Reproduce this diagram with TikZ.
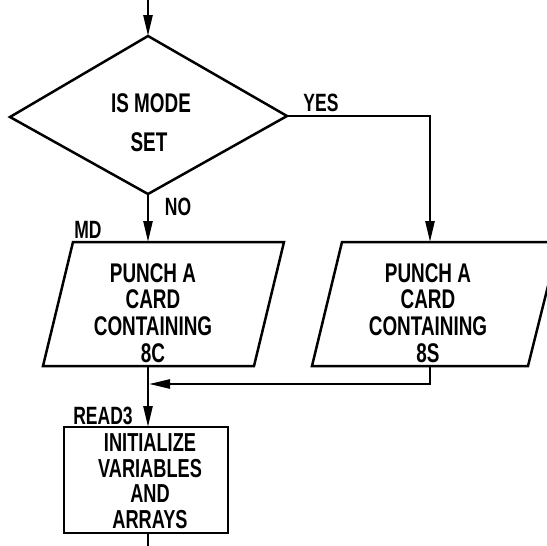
\documentclass[tikz,border=0pt]{standalone}
\usepackage{fontspec}
\newfontfamily\lbl[FakeStretch=0.7]{Liberation Sans}
\usetikzlibrary{arrows.meta}
\tikzset{
  shapeline/.style={line width=2.5pt, line join=miter},
  conn/.style={line width=2.5pt},
  arr/.style={conn, -{Triangle[length=21pt,width=9pt]}},
  txt/.style={font=\lbl\bfseries\fontsize{27}{26.7}\selectfont, align=center, inner sep=0pt},
  boxtxt/.style={font=\lbl\bfseries\fontsize{26}{25.6}\selectfont, align=center, inner sep=0pt},
  lab/.style={font=\lbl\bfseries\fontsize{25}{26}\selectfont, inner sep=0pt}
}
\begin{document}
\begin{tikzpicture}[x=1pt,y=-1pt]
\useasboundingbox (0,0) rectangle (547,546);
\clip (0,0) rectangle (547,546);
\fill[white] (0,0) rectangle (547,546);
% coordinates
\coordinate (start) at (148,0);
\coordinate (dT) at (148,36);
\coordinate (dR) at (287,116);
\coordinate (dB) at (148,194);
\coordinate (dL) at (10,117);
\coordinate (yesC) at (430,116);
\coordinate (p1a) at (73,242);
\coordinate (p1b) at (284,242);
\coordinate (p1c) at (254,366);
\coordinate (p1d) at (43,366);
\coordinate (p1top) at (148,242);
\coordinate (p1bot) at (148,366);
\coordinate (p2a) at (342,242);
\coordinate (p2b) at (559,242);
\coordinate (p2c) at (528,366);
\coordinate (p2d) at (312,366);
\coordinate (p2top) at (430,242);
\coordinate (p2bot) at (430,366);
\coordinate (mergeR) at (430,384);
\coordinate (mergeL) at (148,384);
\coordinate (rTL) at (64,427);
\coordinate (rBR) at (228,533);
\coordinate (rtop) at (148,427);
\coordinate (rbot) at (148,533);
\coordinate (endpt) at (148,546);
% shapes
\draw[shapeline] (dT) -- (dR) -- (dB) -- (dL) -- cycle;
\draw[shapeline] (p1a) -- (p1b) -- (p1c) -- (p1d) -- cycle;
\draw[shapeline] (p2a) -- (p2b) -- (p2c) -- (p2d) -- cycle;
\draw[shapeline] (rTL) rectangle (rBR);
% texts
\node[txt] (q1) at (151,103) {IS MODE};
\node[txt] (q2) at (149,142) {SET};
\node[txt] (pc) at (153,313) {PUNCH A\\CARD\\CONTAINING\\8C};
\node[txt] (ps) at (428,313) {PUNCH A\\CARD\\CONTAINING\\8S};
\node[boxtxt] (init) at (150,481) {INITIALIZE\\VARIABLES\\AND\\ARRAYS};
\node[lab] (yes) at (321,103) {YES};
\node[lab] (no) at (178,207) {NO};
\node[lab] (md) at (88,230) {MD};
\node[lab] (read) at (103,416) {READ3};
% connectors
\draw[arr] (start) -- (dT);
\draw[arr] (dB) -- (p1top);
\draw[arr] (dR) -- (yesC) -- (p2top);
\draw[arr] (p2bot) -- (mergeR) -- ([xshift=1pt]mergeL);
\draw[arr] (p1bot) -- (rtop);
\draw[conn] (rbot) -- (endpt);
\end{tikzpicture}
\end{document}
